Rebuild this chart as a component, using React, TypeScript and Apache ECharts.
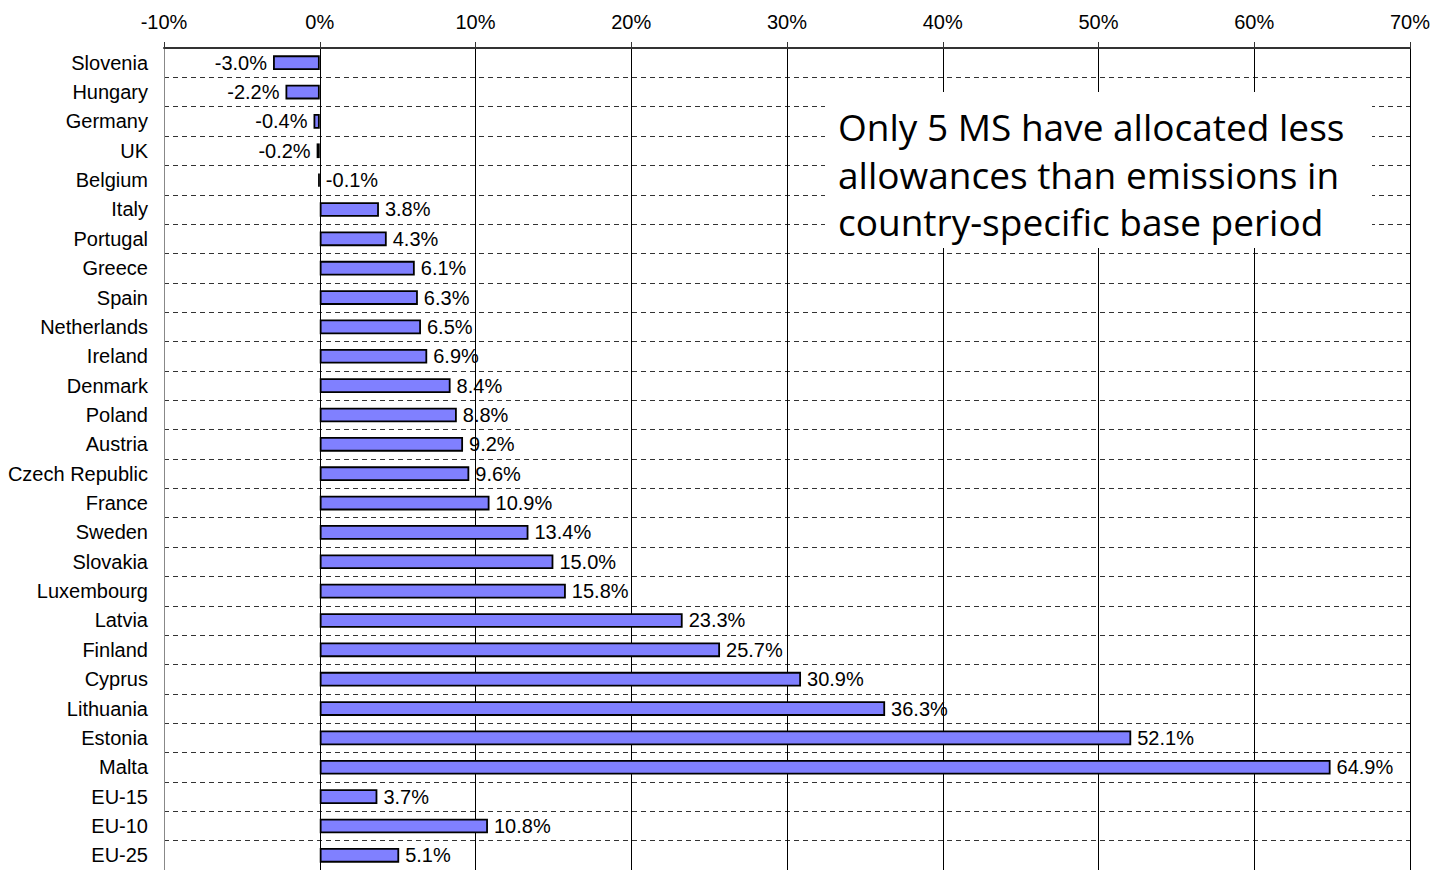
import React, { useEffect, useRef } from "react";
import * as echarts from "echarts";

const countries = [
  "Slovenia", "Hungary", "Germany", "UK", "Belgium", "Italy", "Portugal", "Greece", "Spain",
  "Netherlands", "Ireland", "Denmark", "Poland", "Austria", "Czech Republic", "France", "Sweden",
  "Slovakia", "Luxembourg", "Latvia", "Finland", "Cyprus", "Lithuania", "Estonia", "Malta",
  "EU-15", "EU-10", "EU-25",
];
const values = [
  -3.0, -2.2, -0.4, -0.2, -0.1, 3.8, 4.3, 6.1, 6.3, 6.5, 6.9, 8.4, 8.8, 9.2, 9.6, 10.9, 13.4,
  15.0, 15.8, 23.3, 25.7, 30.9, 36.3, 52.1, 64.9, 3.7, 10.8, 5.1,
];
const rightLabelled = ["Belgium"];
const annotation = [
  "Only 5 MS have allocated less",
  "allowances than emissions in",
  "country-specific base period",
];

const FONT = "'Liberation Sans', Arial, sans-serif";

export default function App() {
  const ref = useRef<HTMLDivElement>(null);
  useEffect(() => {
    if (!ref.current) return;
    const chart = echarts.init(ref.current, null, { renderer: "svg" });
    const data = values.map((v, i) => {
      const right = v >= 0 || rightLabelled.includes(countries[i]);
      return { value: v, label: { position: right ? "right" : "left" } };
    });
    chart.setOption({
      animation: false,
      backgroundColor: "#fff",
      grid: { left: 164, right: 36, top: 48, height: 827, containLabel: false },
      xAxis: {
        type: "value",
        position: "top",
        min: -10,
        max: 70,
        interval: 10,
        axisLine: { show: true, lineStyle: { color: "#333", width: 2 } },
        axisTick: { show: true, inside: false, length: 6, lineStyle: { color: "#333" } },
        axisLabel: {
          formatter: "{value}%",
          color: "#000",
          fontFamily: FONT,
          fontSize: 20,
          margin: 16,
        },
        splitLine: { show: true, lineStyle: { color: "#000", width: 1 } },
      },
      yAxis: {
        type: "category",
        data: countries,
        inverse: true,
        axisLine: { show: true, onZero: false, lineStyle: { color: "#888", width: 1 } },
        axisTick: { show: false },
        axisLabel: { color: "#000", fontFamily: FONT, fontSize: 20, margin: 16 },
        splitLine: { show: true, lineStyle: { color: "#333", width: 1, type: [5, 4] } },
      },
      series: [
        {
          type: "bar",
          data,
          barWidth: "50%",
          itemStyle: { color: "#8080FF", borderColor: "#000", borderWidth: 1.8 },
          label: {
            show: true,
            distance: 6,
            color: "#000",
            fontFamily: FONT,
            fontSize: 20,
            formatter: (p: any) => p.value.toFixed(1) + "%",
          },
        },
      ],
      graphic: [
        {
          type: "rect",
          shape: { x: 825, y: 92, width: 547, height: 156 },
          style: { fill: "#fff" },
          z: 10,
        },
        {
          type: "text",
          x: 838,
          y: 103,
          z: 11,
          style: {
            text: annotation.join("\n"),
            fill: "#000",
            font: "37px 'Open Sans', 'Noto Sans', sans-serif",
            lineHeight: 47.5,
          },
        },
      ],
    });
    return () => chart.dispose();
  }, []);
  return (
    <div
      ref={ref}
      style={{ position: "absolute", left: 0, top: 0, width: 1446, height: 870 }}
    />
  );
}
